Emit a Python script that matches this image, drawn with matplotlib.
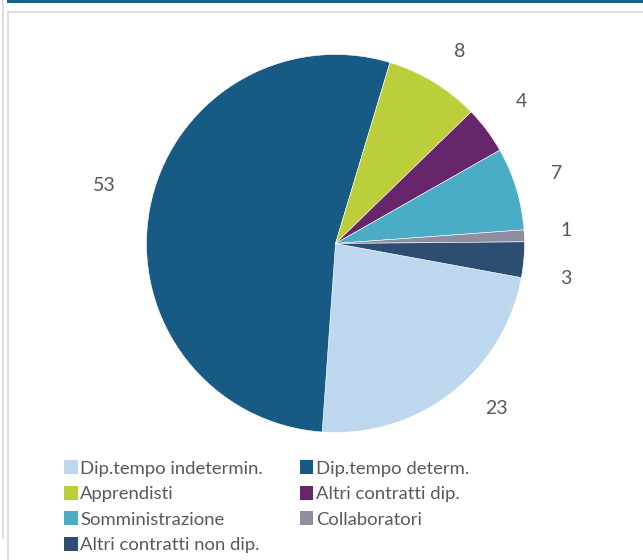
import matplotlib
matplotlib.use('Agg')
import matplotlib.pyplot as plt
import numpy as np
from matplotlib.lines import Line2D
from matplotlib.patches import Patch

# data
categories = ['Dip.tempo indetermin.', 'Dip.tempo determ.', 'Apprendisti',
              'Altri contratti dip.', 'Somministrazione', 'Collaboratori',
              'Altri contratti non dip.']
values = [23, 53, 8, 4, 7, 1, 3]
colors = ['#BDD7EE', '#175A84', '#BCCE3A', '#67266B', '#4BACC6', '#8F8EA0', '#2E4D72']

plt.rcParams['font.family'] = ['Lato', 'DejaVu Sans']

W, H = 643, 560
fig = plt.figure(figsize=(W / 100, H / 100), dpi=100)

# pie centre and radius in pixels
cx, cy, R = 335.5, 243.5, 189
k = 1.4
side = 2 * k * R
ax = fig.add_axes([(cx - side / 2) / W, (H - cy - side / 2) / H, side / W, side / H])
wedges, texts = ax.pie(values, labels=[str(v) for v in values], colors=colors,
                       startangle=-10.4, counterclock=False, labeldistance=1.22,
                       wedgeprops=dict(edgecolor='white', linewidth=0.4),
                       textprops=dict(color='#595959', fontsize=14))

# small nudges of the label placement (Excel "outside end" style)
ang_shift = [6.4, -3.6, -1.7, 0.5, 0.7, 0.8, -3.7]
dist = [1.22, 1.26, 1.21, 1.24, 1.23, 1.22, 1.23]
for w, t, da, d in zip(wedges, texts, ang_shift, dist):
    a = np.deg2rad((w.theta1 + w.theta2) / 2 + da)
    t.set_position((d * np.cos(a), d * np.sin(a)))
    t.set_ha('center')
    t.set_va('center')

ax.set_xlim(-k, k)
ax.set_ylim(-k, k)
ax.set_aspect('equal')
ax.axis('off')

# legend, row-major order in two columns
order = [0, 2, 4, 6, 1, 3, 5]
handles = [Patch(facecolor=colors[i], edgecolor='none') for i in order]
labels = [categories[i] for i in order]
fig.legend(handles, labels, ncol=2, loc='upper left',
           bbox_to_anchor=(55 / W, 1 - 451 / H), frameon=False,
           fontsize=13.3, labelcolor='#595959', handlelength=0.72, handleheight=0.78,
           handletextpad=0.15, columnspacing=2.0, labelspacing=0.5, borderpad=0)

# frame decorations
def px_line(x0, y0, x1, y1, color, lw):
    fig.add_artist(Line2D([x0 / W, x1 / W], [1 - y0 / H, 1 - y1 / H],
                          transform=fig.transFigure, color=color, linewidth=lw))

px_line(8, 1, W, 1, '#1A5E8A', 2.2)
px_line(2.5, 0, 2.5, 538, '#D9D9D9', 1.2)
px_line(7.5, 11.5, 7.5, H, '#D9D9D9', 1.2)
px_line(7.5, 11.5, W, 11.5, '#D9D9D9', 1.2)

fig.savefig('out.png', dpi=100)
